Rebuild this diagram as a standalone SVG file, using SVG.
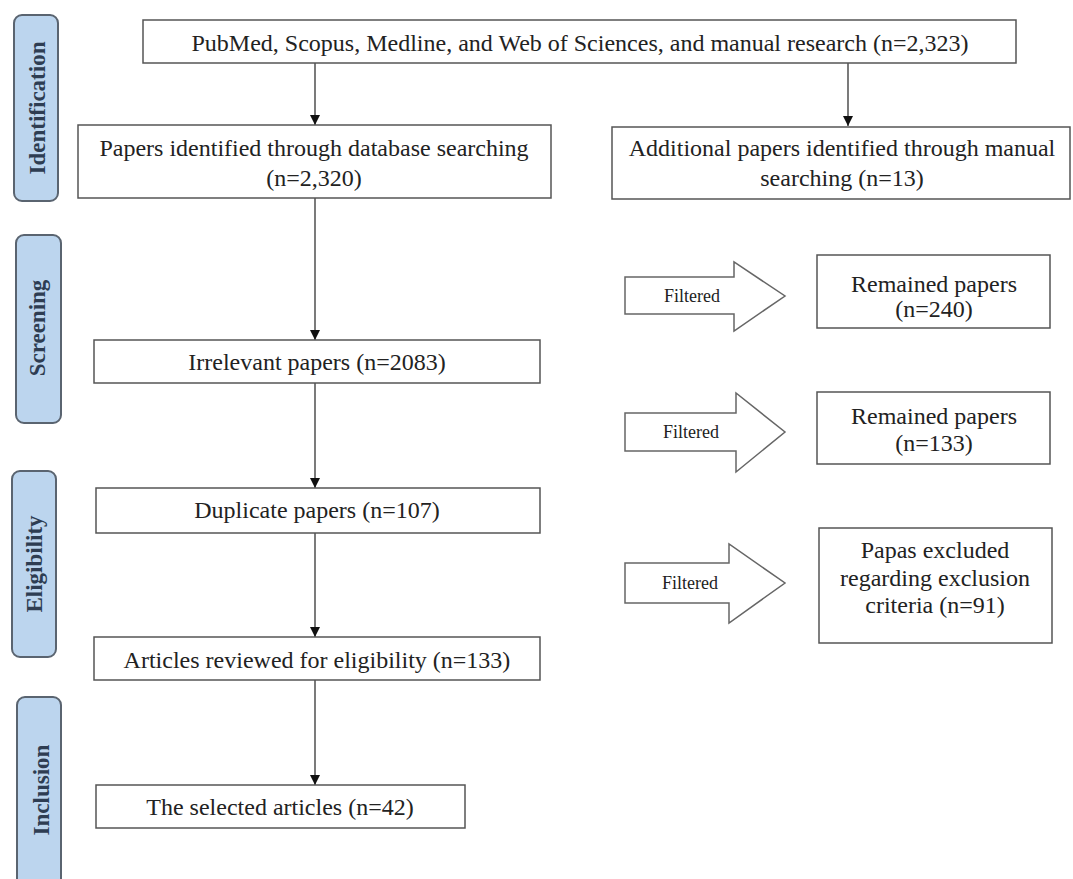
<svg xmlns="http://www.w3.org/2000/svg" width="1073" height="879" viewBox="0 0 1073 879">
<style>
.box{fill:#fff;stroke:#555;stroke-width:1.5}
.phase{fill:#bcd5ee;stroke:#5a6470;stroke-width:2}
.t{font-family:"Liberation Serif","Times New Roman",serif;font-size:24px;fill:#222;text-anchor:middle}
.ph{font-family:"Liberation Serif","Times New Roman",serif;font-size:23px;font-weight:bold;fill:#2e3d52;text-anchor:middle}
.ft{font-family:"Liberation Serif","Times New Roman",serif;font-size:18px;fill:#222;text-anchor:middle}
.c{stroke:#333;stroke-width:1.3;fill:none}
.fa{fill:#fff;stroke:#666;stroke-width:1.5}
</style>
<defs>
<marker id="ah" viewBox="0 0 10 10" refX="10" refY="5" markerWidth="10" markerHeight="10" markerUnits="userSpaceOnUse" orient="auto">
<path d="M0,0 L10,5 L0,10 z" fill="#111"/>
</marker>
</defs>
<rect width="1073" height="879" fill="#fff"/>

<g id="phase-identification"><rect class="phase" x="14" y="15" width="44" height="186" rx="8"/><text class="ph" transform="translate(45,108) rotate(-90)">Identification</text></g>
<g id="phase-screening"><rect class="phase" x="16" y="235" width="45" height="188" rx="8"/><text class="ph" transform="translate(45,328) rotate(-90)">Screening</text></g>
<g id="phase-eligibility"><rect class="phase" x="12" y="471" width="44" height="186" rx="8"/><text class="ph" transform="translate(42,564) rotate(-90)">Eligibility</text></g>
<g id="phase-inclusion"><rect class="phase" x="17" y="697" width="44" height="200" rx="8"/><text class="ph" transform="translate(49,790) rotate(-90)">Inclusion</text></g>

<g id="connectors">
<line class="c" x1="315" y1="63" x2="315" y2="125" marker-end="url(#ah)"/>
<line class="c" x1="848" y1="63" x2="848" y2="126" marker-end="url(#ah)"/>
<line class="c" x1="315" y1="198" x2="315" y2="340" marker-end="url(#ah)"/>
<line class="c" x1="315" y1="383" x2="315" y2="488" marker-end="url(#ah)"/>
<line class="c" x1="315" y1="533" x2="315" y2="637" marker-end="url(#ah)"/>
<line class="c" x1="315" y1="680" x2="315" y2="785" marker-end="url(#ah)"/>
</g>

<g id="n-sources"><rect class="box" x="143" y="20" width="873" height="43"/><text class="t" x="580" y="51">PubMed, Scopus, Medline, and Web of Sciences, and manual research (n=2,323)</text></g>
<g id="n-database"><rect class="box" x="78" y="125" width="473" height="73"/><text class="t" x="314" y="156">Papers identified through database searching</text><text class="t" x="314" y="186">(n=2,320)</text></g>
<g id="n-manual"><rect class="box" x="612" y="127" width="458" height="72"/><text class="t" x="842" y="156">Additional papers identified through manual</text><text class="t" x="842" y="186">searching (n=13)</text></g>
<g id="n-irrelevant"><rect class="box" x="94" y="340" width="446" height="43"/><text class="t" x="317" y="370">Irrelevant papers (n=2083)</text></g>
<g id="n-duplicate"><rect class="box" x="96" y="488" width="444" height="45"/><text class="t" x="317" y="518">Duplicate papers (n=107)</text></g>
<g id="n-articles"><rect class="box" x="94" y="637" width="446" height="43"/><text class="t" x="317" y="668">Articles reviewed for eligibility (n=133)</text></g>
<g id="n-selected"><rect class="box" x="96" y="785" width="369" height="43"/><text class="t" x="280" y="815">The selected articles (n=42)</text></g>

<g id="f1"><path class="fa" d="M625,277 H734 V262 L785,296 L734,331 V314 H625 Z"/><text class="ft" x="692" y="302">Filtered</text></g>
<g id="f2"><path class="fa" d="M625,413 H736 V393 L785,432 L736,472 V451 H625 Z"/><text class="ft" x="691" y="438">Filtered</text></g>
<g id="f3"><path class="fa" d="M625,563 H729 V544 L785,583 L729,623 V603 H625 Z"/><text class="ft" x="690" y="589">Filtered</text></g>

<g id="n-remained240"><rect class="box" x="817" y="255" width="233" height="73"/><text class="t" x="934" y="292">Remained papers</text><text class="t" x="934" y="317">(n=240)</text></g>
<g id="n-remained133"><rect class="box" x="817" y="392" width="233" height="72"/><text class="t" x="934" y="424">Remained papers</text><text class="t" x="934" y="451">(n=133)</text></g>
<g id="n-excluded"><rect class="box" x="819" y="528" width="233" height="115"/><text class="t" x="935" y="558">Papas excluded</text><text class="t" x="935" y="586">regarding exclusion</text><text class="t" x="935" y="613">criteria (n=91)</text></g>
</svg>
